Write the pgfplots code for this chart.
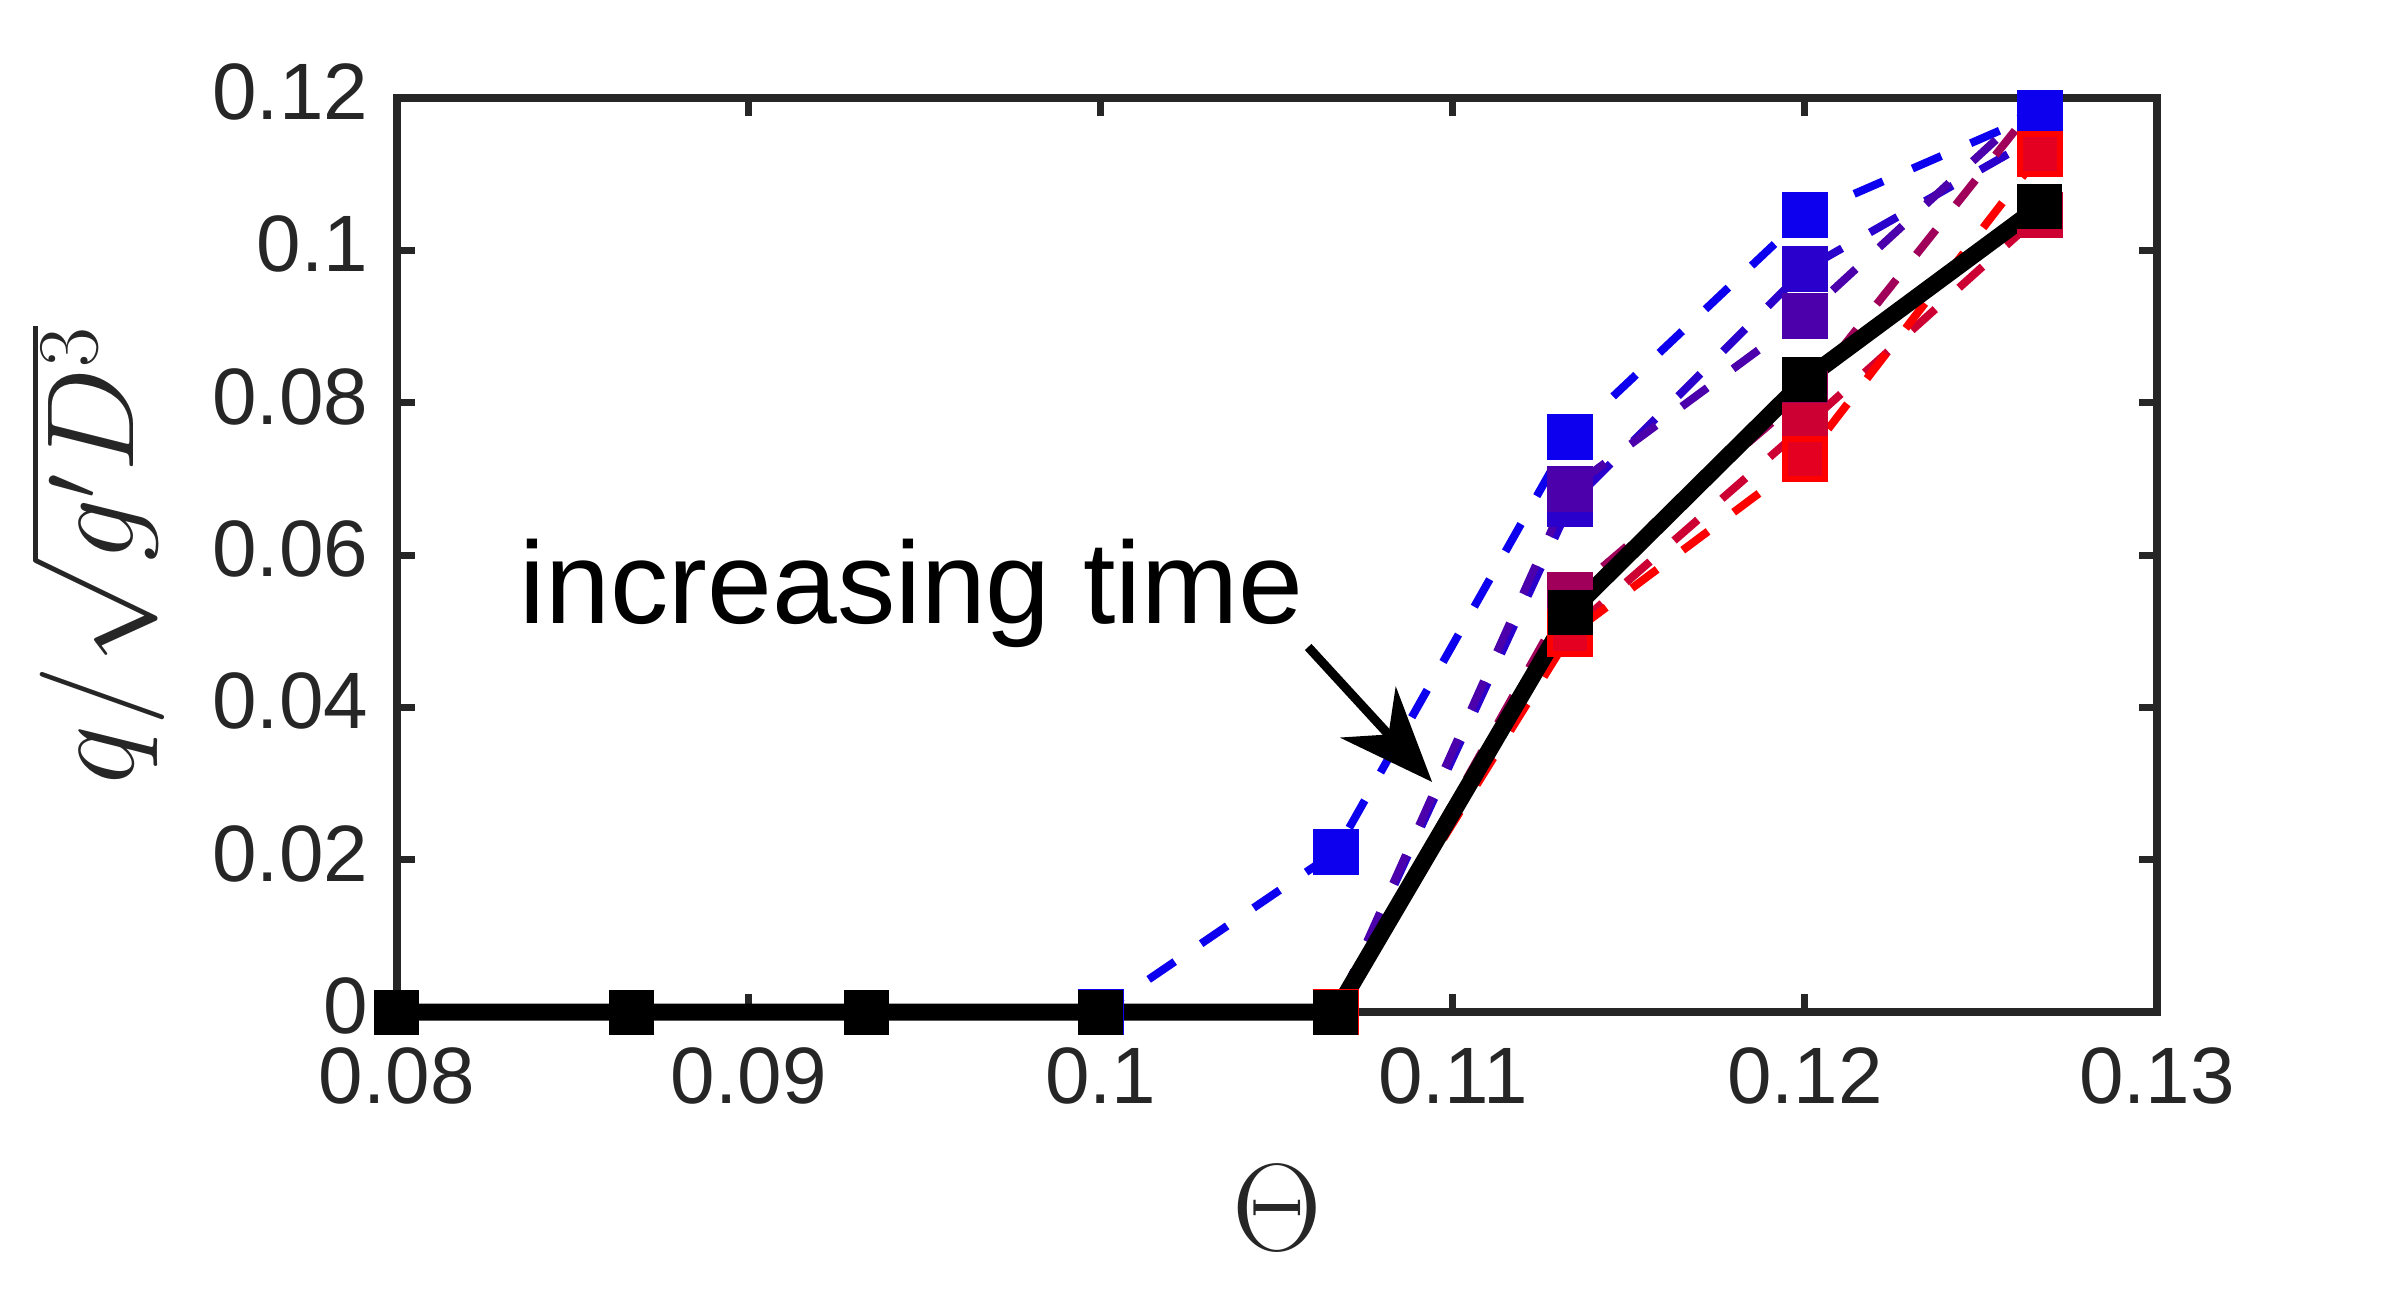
\documentclass[border=0pt]{standalone}
\usepackage[no-math]{fontspec}
\setmainfont{Liberation Sans}
\usepackage{pgfplots}
\pgfplotsset{compat=1.18}
\usetikzlibrary{arrows.meta}
\definecolor{axgray}{RGB}{38,38,38}
\definecolor{cA}{RGB}{12,0,238}
\definecolor{cB}{RGB}{42,0,205}
\definecolor{cC}{RGB}{75,0,172}
\definecolor{cD}{RGB}{160,0,90}
\definecolor{cE}{RGB}{205,0,52}
\definecolor{cF}{RGB}{255,0,0}
\definecolor{cFf}{RGB}{228,0,32}
\begin{document}
\begin{tikzpicture}
\path[use as bounding box] (0,0) rectangle (476.6pt,260pt);
\begin{axis}[
  at={(79.34pt,57.6pt)}, anchor=south west,
  scale only axis, width=352.06pt, height=182.8pt,
  xmin=0.08, xmax=0.13, ymin=0, ymax=0.12,
  clip=false,
  xtick={0.08,0.09,0.1,0.11,0.12,0.13},
  xticklabels={0.08,0.09,0.1,0.11,0.12,0.13},
  ytick={0,0.02,0.04,0.06,0.08,0.1,0.12},
  yticklabels={0,0.02,0.04,0.06,0.08,0.1,0.12},
  scaled ticks=false,
  tick align=inside, major tick length=3.7pt,
  tick style={line width=1.4pt, color=axgray},
  axis line style={line width=1.6pt, color=axgray},
  ticklabel style={font=\fontsize{16}{16}\selectfont, text=axgray},
  xticklabel style={yshift=-3.6pt},
  yticklabel style={xshift=-2.2pt, yshift=1.2pt},
  xlabel={$\Theta$},
  xlabel style={at={(axis description cs:0.5,0)}, anchor=center, yshift=-39.2pt, font=\fontsize{27}{27}\selectfont, text=axgray, inner sep=0pt},
  ylabel={$q/\sqrt{g'D^3}$},
  ylabel style={at={(axis description cs:-0.1315,0.5)}, anchor=south, font=\fontsize{26}{26}\selectfont, text=axgray, inner sep=0pt},
  dline/.style={line width=1.6pt, dash pattern=on 6.3pt off 6.4pt, no markers},
  smark/.style={only marks, mark=square*, mark size=4.4pt, color=#1, mark options={solid, line width=0.4pt, draw=#1, fill=#1}},
]
% dashed lines
\addplot[dline, cA] coordinates {(0.08,0) (0.086667,0) (0.093333,0) (0.1,0) (0.106667,0.021) (0.113333,0.0755) (0.12,0.1046) (0.126667,0.1180)};
\addplot[dline, cB] coordinates {(0.08,0) (0.086667,0) (0.093333,0) (0.1,0) (0.106667,0) (0.113333,0.0667) (0.12,0.0975) (0.126667,0.1150)};
\addplot[dline, cC] coordinates {(0.08,0) (0.086667,0) (0.093333,0) (0.1,0) (0.106667,0) (0.113333,0.0687) (0.12,0.0914) (0.126667,0.1198)};
\addplot[dline, cD] coordinates {(0.08,0) (0.086667,0) (0.093333,0) (0.1,0) (0.106667,0) (0.113333,0.0548) (0.12,0.0811) (0.126667,0.1198)};
\addplot[dline, cE] coordinates {(0.08,0) (0.086667,0) (0.093333,0) (0.1,0) (0.106667,0) (0.113333,0.0500) (0.12,0.0769) (0.126667,0.1046)};
\addplot[dline, cF] coordinates {(0.08,0) (0.086667,0) (0.093333,0) (0.1,0) (0.106667,0) (0.113333,0.0496) (0.12,0.0726) (0.126667,0.1126)};
% markers
\addplot[smark=cB] coordinates {(0.106667,0) (0.113333,0.0667) (0.12,0.0975) (0.126667,0.1150)};
\addplot[smark=cC] coordinates {(0.106667,0) (0.113333,0.0687) (0.12,0.0914)};
\addplot[smark=cD] coordinates {(0.106667,0) (0.113333,0.0548) (0.12,0.0811)};
\addplot[smark=cA] coordinates {(0.1,0) (0.106667,0.021) (0.113333,0.0755) (0.12,0.1046) (0.126667,0.1180)};
\addplot[smark=cE] coordinates {(0.106667,0) (0.113333,0.0500) (0.12,0.0769) (0.126667,0.1046)};
\addplot[only marks, mark=square*, mark size=4.0pt, color=cF, mark options={solid, draw=cF, fill=cFf, line width=1.2pt}] coordinates {(0.106667,0) (0.113333,0.0496) (0.12,0.0726) (0.126667,0.1126)};
% final (black)
\addplot[black, line width=3.4pt, mark=square*, mark size=4.3pt, mark options={solid, line width=0.4pt, draw=black, fill=black}] coordinates {(0.08,0) (0.086667,0) (0.093333,0) (0.1,0) (0.106667,0) (0.113333,0.0525) (0.12,0.0830) (0.126667,0.1058)};
% annotation
\node[anchor=base west, inner sep=0pt, font=\fontsize{23.3}{28}\selectfont] at (axis cs:0.08347,0.05107) {increasing time};
\draw[line width=1.8pt, -{Stealth[length=18.9pt, width=15pt, inset=6pt]}] (axis cs:0.10589,0.04792) -- (axis cs:0.10941,0.0302);
\end{axis}
\end{tikzpicture}
\end{document}
